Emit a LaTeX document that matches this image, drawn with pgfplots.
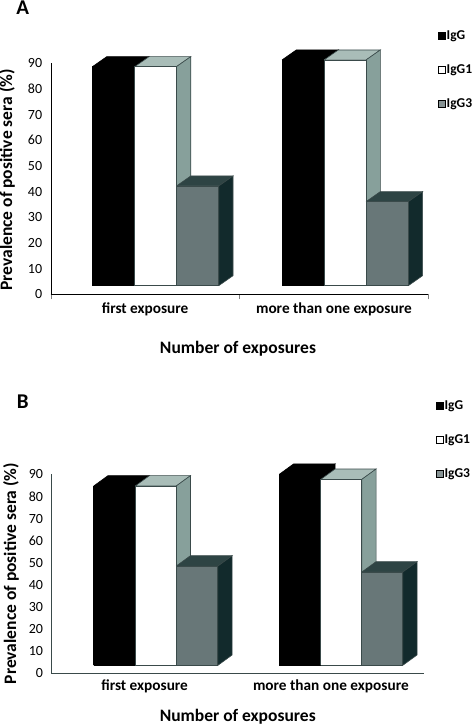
\documentclass[border=0pt]{standalone}
\usepackage{fontspec}
\setmainfont{Carlito}
\usepackage{pgfplots}
\pgfplotsset{compat=1.18}
\definecolor{whitetop}{HTML}{A9BDB8}
\definecolor{whiteside}{HTML}{87A09B}
\definecolor{greyfront}{HTML}{687778}
\definecolor{greytop}{HTML}{2E4444}
\definecolor{greyside}{HTML}{122A2C}
\definecolor{edge}{HTML}{3A4A4A}
% x left, width, value, front, top, side, stroke
\newcommand{\tdbar}[7]{%
  \pgfmathsetmacro{\xa}{#1}\pgfmathsetmacro{\xb}{#1+#2}%
  \pgfmathsetmacro{\xc}{\xa+\ddx}\pgfmathsetmacro{\xd}{\xb+\ddx}%
  \pgfmathsetmacro{\yt}{#3+\ddy}\pgfmathsetmacro{\yb}{\bbase+\ddy}%
  \addplot[forget plot,mark=none,fill=#5,draw=#7,line width=0.6pt] coordinates {(\xa,#3) (\xb,#3) (\xd,\yt) (\xc,\yt) (\xa,#3)};
  \addplot[forget plot,mark=none,fill=#6,draw=#7,line width=0.6pt] coordinates {(\xb,\bbase) (\xd,\yb) (\xd,\yt) (\xb,#3) (\xb,\bbase)};
  \addplot[forget plot,mark=none,fill=#4,draw=#7,line width=0.8pt] coordinates {(\xa,\bbase) (\xb,\bbase) (\xb,#3) (\xa,#3) (\xa,\bbase)};
}
\pgfplotsset{
  common/.style={
    scale only axis, clip=false, anchor=south west,
    axis lines*=left, xmin=0, xmax=2, ymin=0, ymax=90,
    ytick={0,10,...,90}, xtick={0.5,1.5},
    xticklabels={first exposure,more than one exposure},
    minor xtick={0,1,2},
    major tick length=0pt, minor tick length=5pt, tick align=outside,
    /pgf/number format/assume math mode=true,
    tick label style={font=\fontsize{14}{15}\selectfont},
    xticklabel style={font=\fontsize{15.3}{17}\selectfont\bfseries},
    yticklabel style={xshift=-5pt},
    ylabel={Prevalence of positive sera (\%)},
    xlabel={Number of exposures},
    label style={font=\fontsize{17.5}{19}\selectfont\bfseries},
    legend cell align=left,
    legend style={draw=none,fill=none,anchor=north west,row sep=21.5pt,
      inner sep=0pt,font=\fontsize{13.5}{14}\selectfont\bfseries,
      /tikz/every even column/.append style={column sep=0pt},
      nodes={inner sep=1pt},
      /tikz/column 2/.style={column sep=0pt,nodes={inner sep=1pt,xshift=2pt}}},
  },
  sq/.style={legend image code/.code={\draw[##1] (0pt,-3.5pt) rectangle (7pt,3.5pt);}},
}
\begin{document}
\begin{tikzpicture}[x=1pt,y=1pt]
\path[use as bounding box] (0,0) rectangle (473,725);
\begin{axis}[common, at={(50.7pt,430.7pt)}, width=377.6pt, height=231pt,
  xlabel style={at={(axis description cs:0.496,-0.235)},anchor=center},
  ylabel style={at={(axis description cs:-0.116,0.495)},anchor=center},
  xticklabel style={yshift=-5pt},
  legend style={at={(axis description cs:1.026,1.145)}}]
\addlegendimage{sq,fill=black,draw=black}\addlegendentry{IgG}
\addlegendimage{sq,fill=white,draw=black}\addlegendentry{IgG1}
\addlegendimage{sq,fill=greyfront!80!white,draw=none}\addlegendentry{IgG3}
\def\bbase{3.35}\def\ddx{0.0757}\def\ddy{3.9}
\tdbar{0.2214}{0.2240}{88.7}{black}{black}{black}{black}
\tdbar{0.4454}{0.2207}{88.7}{white}{whitetop}{whiteside}{edge}
\tdbar{0.6661}{0.2240}{42.2}{greyfront}{greytop}{greyside}{edge}
\tdbar{1.2251}{0.2225}{91.3}{black}{black}{black}{black}
\tdbar{1.4476}{0.2225}{91.3}{white}{whitetop}{whiteside}{edge}
\tdbar{1.6701}{0.2240}{36.1}{greyfront}{greytop}{greyside}{edge}
\end{axis}
\begin{axis}[common, at={(51.5pt,51.7pt)}, width=372.5pt, height=199pt,
  minor tick length=0pt, axis line style={edge},
  xlabel style={at={(axis description cs:0.5,-0.218)},anchor=center},
  ylabel style={at={(axis description cs:-0.109,0.5015)},anchor=center},
  xticklabel style={yshift=-3pt},
  legend style={at={(axis description cs:1.032,1.375)}}]
\addlegendimage{sq,fill=black,draw=black}\addlegendentry{IgG}
\addlegendimage{sq,fill=white,draw=black}\addlegendentry{IgG1}
\addlegendimage{sq,fill=greyfront!80!white,draw=none}\addlegendentry{IgG3}
\def\bbase{3.6}\def\ddx{0.0768}\def\ddy{4.7}
\tdbar{0.2265}{0.2228}{84.7}{black}{black}{black}{black}
\tdbar{0.4493}{0.2201}{84.7}{white}{whitetop}{whiteside}{edge}
\tdbar{0.6694}{0.2239}{48.5}{greyfront}{greytop}{greyside}{edge}
\tdbar{1.2230}{0.2228}{90.0}{black}{black}{black}{black}
\tdbar{1.4458}{0.2201}{87.7}{white}{whitetop}{whiteside}{edge}
\tdbar{1.6659}{0.2201}{45.8}{greyfront}{greytop}{greyside}{edge}
\end{axis}
\node[font=\fontsize{21}{23}\selectfont\bfseries,inner sep=0pt] at (22.7,717) {A};
\node[font=\fontsize{21}{23}\selectfont\bfseries,inner sep=0pt] at (22.7,323.3) {B};
\end{tikzpicture}
\end{document}
